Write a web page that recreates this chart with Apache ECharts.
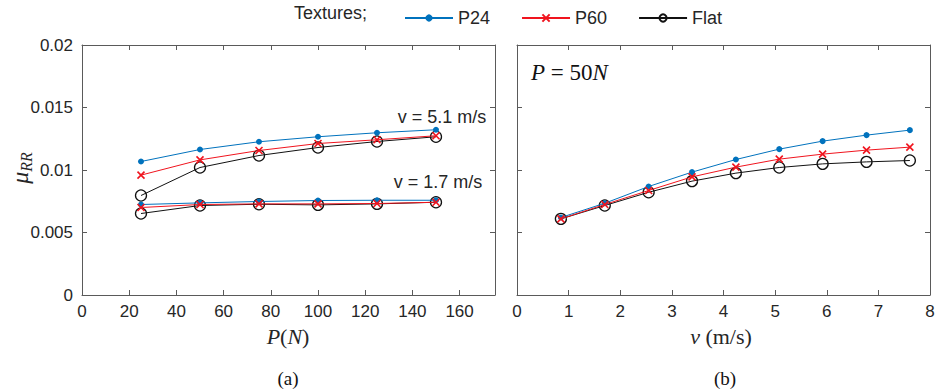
<!DOCTYPE html>
<html>
<head>
<meta charset="utf-8">
<script src="https://cdn.jsdelivr.net/npm/echarts@6/dist/echarts.min.js"></script>
<style>
html,body{margin:0;padding:0;background:#fff;}
#chart{width:941px;height:392px;}
</style>
</head>
<body>
<div id="chart"></div>
<script>
// ---- data ----
const loads = [25, 50, 75, 100, 125, 150];
const p24_v51  = [0.01068, 0.01164, 0.01226, 0.01266, 0.01298, 0.01322];
const p60_v51  = [0.00959, 0.01081, 0.01156, 0.01212, 0.01242, 0.01274];
const flat_v51 = [0.00796, 0.01020, 0.01116, 0.01180, 0.01228, 0.01266];
const p24_v17  = [0.00724, 0.00737, 0.00748, 0.00756, 0.00758, 0.00758];
const p60_v17  = [0.00700, 0.00724, 0.00729, 0.00729, 0.00732, 0.00742];
const flat_v17 = [0.00652, 0.00716, 0.00726, 0.00721, 0.00729, 0.00742];

const speeds = [0.85, 1.7, 2.55, 3.39, 4.24, 5.08, 5.92, 6.77, 7.61];
const p24_p50  = [0.00620, 0.00734, 0.00868, 0.00983, 0.01084, 0.01167, 0.01231, 0.01279, 0.01319];
const p60_p50  = [0.00609, 0.00724, 0.00836, 0.00945, 0.01023, 0.01087, 0.01127, 0.01159, 0.01183];
const flat_p50 = [0.00609, 0.00716, 0.00822, 0.00911, 0.00975, 0.01020, 0.01049, 0.01065, 0.01076];

const seriesNames = ['P24', 'P60', 'Flat'];
const legendTitle = 'Textures;';

// ---- styles ----
const BLUE = '#0072BD', RED = '#F0141E', BLACK = '#111';
const AX = '#5a5a5a', LBL = '#262626';
const SANS = "'Liberation Sans', Arial, sans-serif";
const SERIF = "'Liberation Serif', 'DejaVu Serif', serif";
const CROSS = 'path://M0,0L10,10M10,0L0,10';

function styleFor(name) {
  if (name === 'P24') return {
    symbol: 'circle', symbolSize: 6,
    itemStyle: { color: BLUE, borderColor: BLUE, borderWidth: 0 },
    lineStyle: { color: BLUE, width: 1 }, z: 3
  };
  if (name === 'P60') return {
    symbol: CROSS, symbolSize: 7,
    itemStyle: { color: 'rgba(0,0,0,0)', borderColor: RED, borderWidth: 1.6 },
    lineStyle: { color: RED, width: 1 }, z: 4
  };
  return {
    symbol: 'circle', symbolSize: 11,
    itemStyle: { color: 'rgba(0,0,0,0)', borderColor: BLACK, borderWidth: 1.3 },
    lineStyle: { color: BLACK, width: 1 }, z: 2
  };
}
function mk(name, xs, ys, idx) {
  return Object.assign({
    type: 'line', name: name, xAxisIndex: idx, yAxisIndex: idx,
    data: xs.map((x, i) => [x, ys[i]]),
    showAllSymbol: true, animation: false, emphasis: { disabled: true }
  }, styleFor(name));
}

const series = [
  mk('P24', loads, p24_v51, 0), mk('P60', loads, p60_v51, 0), mk('Flat', loads, flat_v51, 0),
  mk('P24', loads, p24_v17, 0), mk('P60', loads, p60_v17, 0), mk('Flat', loads, flat_v17, 0),
  mk('P24', speeds, p24_p50, 1), mk('P60', speeds, p60_p50, 1), mk('Flat', speeds, flat_p50, 1)
];

function xAx(grid, pos, min, max, interval, labels, showMax) {
  return {
    type: 'value', gridIndex: grid, position: pos, min: min, max: max, interval: interval,
    axisLine: { show: true, onZero: false, lineStyle: { color: AX, width: 1 } },
    axisTick: { show: true, inside: true, length: 5, lineStyle: { color: AX } },
    axisLabel: { show: labels, showMaxLabel: showMax, margin: 8, color: LBL, fontFamily: SANS, fontSize: 17 },
    splitLine: { show: false }
  };
}
function yAx(grid, pos, labels) {
  return {
    type: 'value', gridIndex: grid, position: pos, min: 0, max: 0.02, interval: 0.005,
    axisLine: { show: true, onZero: false, lineStyle: { color: AX, width: 1 } },
    axisTick: { show: true, inside: true, length: 5, lineStyle: { color: AX } },
    axisLabel: { show: labels, margin: 9, color: LBL, fontFamily: SANS, fontSize: 17,
      formatter: v => (v === 0 ? '0' : String(+v.toFixed(4))) },
    splitLine: { show: false }
  };
}

const chart = echarts.init(document.getElementById('chart'), null, { renderer: 'svg' });
chart.setOption({
  backgroundColor: '#fff',
  animation: false,
  legend: {
    data: seriesNames, left: 399, top: 4, itemWidth: 48, itemHeight: 9, itemGap: 31,
    selectedMode: false,
    textStyle: { fontFamily: SANS, fontSize: 18, color: LBL }
  },
  grid: [
    { left: 82, top: 45, width: 413, height: 250 },
    { left: 517, top: 45, width: 413, height: 250 }
  ],
  xAxis: [
    xAx(0, 'bottom', 0, 175, 20, true, false),
    xAx(1, 'bottom', 0, 8, 1, true, true),
    xAx(0, 'top', 0, 175, 20, false, false),
    xAx(1, 'top', 0, 8, 1, false, true)
  ],
  yAxis: [
    yAx(0, 'left', true),
    yAx(1, 'left', false),
    yAx(0, 'right', false),
    yAx(1, 'right', false)
  ],
  series: series,
  graphic: [
    { type: 'text', left: 294, top: 4, style: { text: legendTitle, fontFamily: SANS, fontSize: 18, fill: LBL } },
    { type: 'text', x: 442, y: 117, style: { text: 'v = 5.1 m/s', fontFamily: SANS, fontSize: 18, fill: LBL, align: 'center', verticalAlign: 'middle' } },
    { type: 'text', x: 438, y: 182, style: { text: 'v = 1.7 m/s', fontFamily: SANS, fontSize: 18, fill: LBL, align: 'center', verticalAlign: 'middle' } },
    { type: 'text', x: 531, y: 72, style: {
        text: '{i|P} = 50{i|N}', fontFamily: SERIF, fontSize: 23, fill: '#111', align: 'left', verticalAlign: 'middle',
        rich: { i: { fontFamily: SERIF, fontStyle: 'italic', fontSize: 23, fill: '#111' } } } },
    { type: 'text', x: 288, y: 336, style: {
        text: '{i|P}({i|N})', fontFamily: SERIF, fontSize: 22, fill: LBL, align: 'center', verticalAlign: 'middle',
        rich: { i: { fontFamily: SERIF, fontStyle: 'italic', fontSize: 22, fill: LBL } } } },
    { type: 'text', x: 721, y: 336, style: {
        text: '{i|v} (m/s)', fontFamily: SERIF, fontSize: 22, fill: LBL, align: 'center', verticalAlign: 'middle',
        rich: { i: { fontFamily: SERIF, fontStyle: 'italic', fontSize: 22, fill: LBL } } } },
    { type: 'text', x: 288, y: 378, style: { text: '(a)', fontFamily: SERIF, fontSize: 19, fill: '#111', align: 'center', verticalAlign: 'middle' } },
    { type: 'text', x: 725, y: 378, style: { text: '(b)', fontFamily: SERIF, fontSize: 19, fill: '#111', align: 'center', verticalAlign: 'middle' } },
    { type: 'text', x: 20, y: 168, rotation: Math.PI / 2, style: {
        text: '{m|μ}{s|RR}', align: 'center', verticalAlign: 'middle', fill: LBL,
        rich: {
          m: { fontFamily: SERIF, fontStyle: 'italic', fontSize: 24, fill: LBL, lineHeight: 28 },
          s: { fontFamily: SERIF, fontStyle: 'italic', fontSize: 16, fill: LBL, verticalAlign: 'bottom', lineHeight: 28, padding: [12, 0, 0, 0] }
        } } }
  ]
});
</script>
</body>
</html>
